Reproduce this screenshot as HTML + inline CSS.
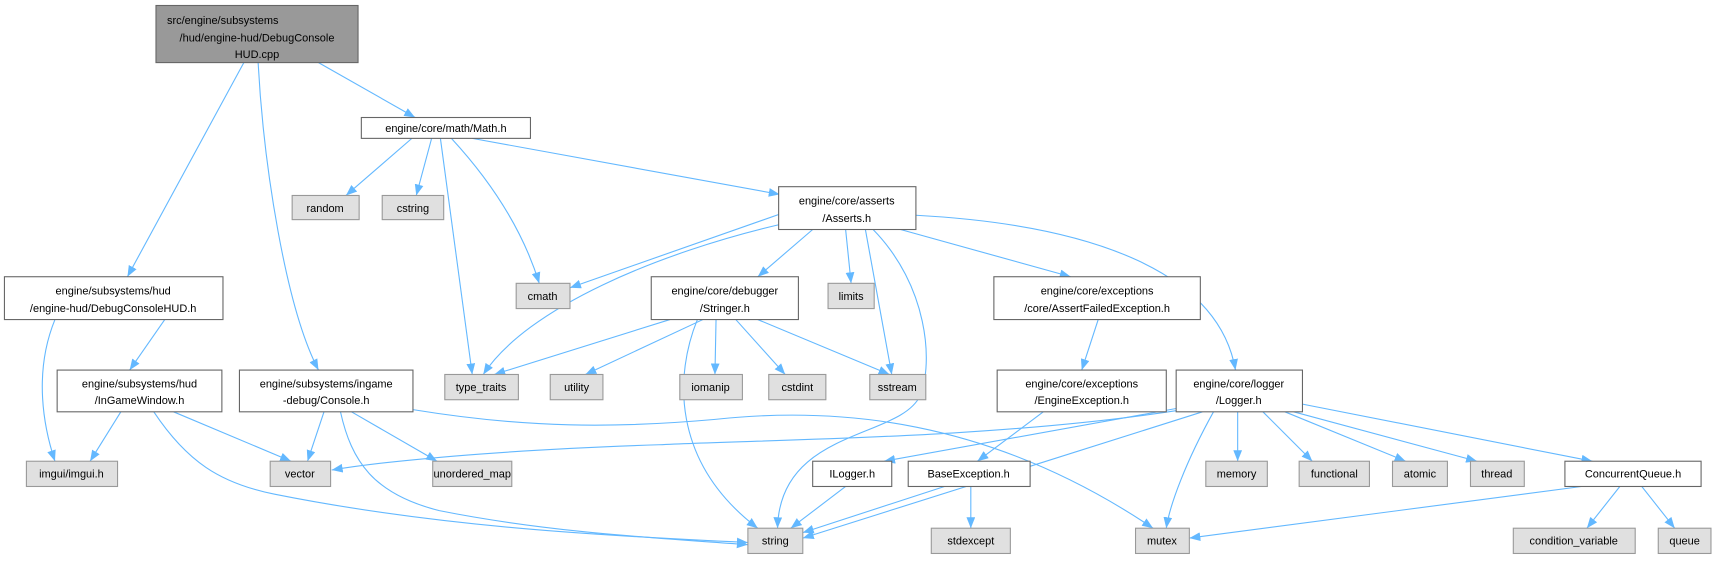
<!DOCTYPE html>
<html><head><meta charset="utf-8"><style>html,body{margin:0;padding:0;background:#fff}svg{display:block}text{font-family:"Liberation Sans",sans-serif;font-size:10px;fill:#000}</style></head>
<body>
<svg width="1722" height="565" viewBox="0 0 1568 514.5" xmlns="http://www.w3.org/2000/svg">
<defs><marker id="a" viewBox="0 0 10 8" refX="10" refY="4" markerWidth="10" markerHeight="8" markerUnits="userSpaceOnUse" orient="auto"><path d="M0,0L10,4L0,8z" fill="#63b8ff"/></marker></defs>
<g fill="none" stroke="#63b8ff" stroke-width="1" marker-end="url(#a)">
<path d="M290,57L378,107"/><path d="M222,57L116,252"/><path d="M235,57C240,150 260,280 290,337"/>
<path d="M375,126L315,178"/><path d="M393,126L379,178"/><path d="M401,126L430,341"/><path d="M411,126Q470,190 491,258"/><path d="M430,126L710,177"/>
<path d="M710,195L519,262"/><path d="M712,204C600,230 480,280 440,341"/><path d="M740,209L690,252"/><path d="M770,209L775,258"/><path d="M788,209L812,341"/><path d="M795,209C845,260 850,330 838,360C820,400 710,390 708,481"/><path d="M820,209L975,252"/><path d="M834,196C1000,205 1110,250 1125,337"/>
<path d="M610,291L450,341"/><path d="M640,291L533,341"/><path d="M652,291L651,341"/><path d="M670,291L715,341"/><path d="M690,291L810,341"/><path d="M635,291C615,340 610,420 690,481"/>
<path d="M1000,291L985,337"/><path d="M950,375L890,420"/>
<path d="M150,291L118,337"/><path d="M50,291C30,340 40,390 50,420"/><path d="M110,375L82,420"/><path d="M158,375L265,420"/><path d="M140,375C170,420 200,440 250,450C400,480 550,488 681,494"/>
<path d="M295,375L280,420"/><path d="M320,375L398,420"/><path d="M310,375C320,420 340,450 400,465C500,485 600,490 681,496"/><path d="M376,373C480,390 560,390 650,382C760,370 900,380 1050,481"/>
<path d="M1071,374C900,400 700,400 600,405C450,410 350,420 302,428"/><path d="M1071,372L805,420"/><path d="M1095,375L731,490"/><path d="M1105,375C1080,420 1065,460 1062,481"/>
<path d="M1127,375L1127,420"/><path d="M1150,375L1195,420"/><path d="M1170,375L1280,420"/><path d="M1178,375L1345,420"/><path d="M1186,368L1450,420"/>
<path d="M770,443L720,481"/><path d="M860,443L731,485"/><path d="M884,443L884,481"/>
<path d="M1440,443L1083,490"/><path d="M1475,443L1445,481"/><path d="M1495,443L1525,481"/>
</g>
<g stroke-width="1">
<rect x="142" y="5" width="184" height="52" fill="#999" stroke="#666"/>
<g fill="#fff" stroke="#666">
<rect x="329" y="107" width="154" height="19"/><rect x="709" y="170" width="125" height="39"/><rect x="4" y="252" width="199" height="39"/><rect x="52" y="337" width="150" height="38"/><rect x="218" y="337" width="158" height="38"/><rect x="593" y="252" width="134" height="39"/><rect x="905" y="252" width="188" height="39"/><rect x="908" y="337" width="154" height="38"/><rect x="1071" y="337" width="115" height="38"/><rect x="740" y="420" width="72" height="23"/><rect x="827" y="420" width="111" height="23"/><rect x="1425" y="420" width="124" height="23"/>
</g>
<g fill="#e0e0e0" stroke="#999">
<rect x="266" y="178" width="61" height="22"/><rect x="348" y="178" width="56" height="22"/><rect x="470" y="258" width="49" height="23"/><rect x="24" y="420" width="83" height="23"/><rect x="246" y="420" width="55" height="23"/><rect x="394" y="420" width="72" height="23"/><rect x="405" y="341" width="67" height="23"/><rect x="501" y="341" width="48" height="23"/><rect x="619" y="341" width="57" height="23"/><rect x="700" y="341" width="52" height="23"/><rect x="792" y="341" width="51" height="23"/><rect x="754" y="258" width="42" height="23"/><rect x="681" y="481" width="50" height="23"/><rect x="848" y="481" width="72" height="23"/><rect x="1034" y="481" width="49" height="23"/><rect x="1098" y="420" width="56" height="23"/><rect x="1183" y="420" width="64" height="23"/><rect x="1268" y="420" width="50" height="23"/><rect x="1339" y="420" width="49" height="23"/><rect x="1378" y="481" width="111" height="23"/><rect x="1510" y="481" width="48" height="23"/>
</g></g>
<g text-anchor="middle">
<text x="152" y="22" text-anchor="start">src/engine/subsystems</text><text x="234" y="38">/hud/engine-hud/DebugConsole</text><text x="234" y="53">HUD.cpp</text>
<text x="406" y="120">engine/core/math/Math.h</text>
<text x="771" y="186">engine/core/asserts</text><text x="771" y="202">/Asserts.h</text>
<text x="103" y="268">engine/subsystems/hud</text><text x="103" y="284">/engine-hud/DebugConsoleHUD.h</text>
<text x="127" y="353">engine/subsystems/hud</text><text x="127" y="368">/InGameWindow.h</text>
<text x="297" y="353">engine/subsystems/ingame</text><text x="297" y="368">-debug/Console.h</text>
<text x="660" y="268">engine/core/debugger</text><text x="660" y="284">/Stringer.h</text>
<text x="999" y="268">engine/core/exceptions</text><text x="999" y="284">/core/AssertFailedException.h</text>
<text x="985" y="353">engine/core/exceptions</text><text x="985" y="368">/EngineException.h</text>
<text x="1128" y="353">engine/core/logger</text><text x="1128" y="368">/Logger.h</text>
<text x="776" y="435">ILogger.h</text><text x="882" y="435">BaseException.h</text><text x="1487" y="435">ConcurrentQueue.h</text>
<text x="296" y="193">random</text><text x="376" y="193">cstring</text><text x="494" y="273">cmath</text><text x="65" y="435">imgui/imgui.h</text><text x="273" y="435">vector</text><text x="430" y="435">unordered_map</text><text x="438" y="356">type_traits</text><text x="525" y="356">utility</text><text x="647" y="356">iomanip</text><text x="726" y="356">cstdint</text><text x="817" y="356">sstream</text><text x="775" y="273">limits</text><text x="706" y="496">string</text><text x="884" y="496">stdexcept</text><text x="1058" y="496">mutex</text><text x="1126" y="435">memory</text><text x="1215" y="435">functional</text><text x="1293" y="435">atomic</text><text x="1363" y="435">thread</text><text x="1433" y="496">condition_variable</text><text x="1534" y="496">queue</text>
</g>
</svg>
</body></html>
